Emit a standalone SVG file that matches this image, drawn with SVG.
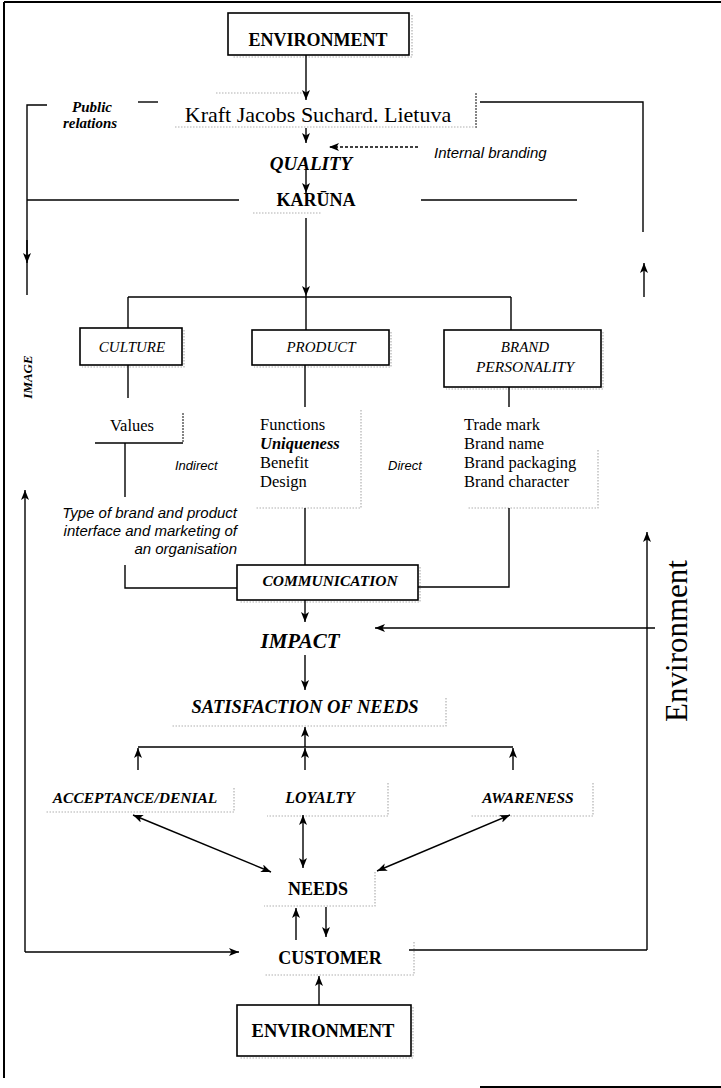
<svg xmlns="http://www.w3.org/2000/svg" width="721" height="1088" viewBox="0 0 721 1088">
<defs>
<marker id="ah" viewBox="0 0 10 8" refX="10" refY="4" markerWidth="10" markerHeight="8" markerUnits="userSpaceOnUse" orient="auto-start-reverse">
<path d="M0,0 L10,4 L0,8 L2.5,4 z" fill="#000"/>
</marker>
<style>
.t{font-family:"Liberation Serif","Times New Roman",serif;fill:#000}
.b{font-weight:bold}
.i{font-style:italic}
.s{font-family:"Liberation Sans",Arial,sans-serif;font-style:italic;fill:#000}
.box{fill:#fff;stroke:#000;stroke-width:1.6}
.ln{fill:none;stroke:#000;stroke-width:1.4}
.ar{fill:none;stroke:#000;stroke-width:1.4;marker-end:url(#ah)}
.ar2{fill:none;stroke:#000;stroke-width:1.4;marker-end:url(#ah);marker-start:url(#ah)}
.sh{fill:none;stroke:#b0b0b0;stroke-width:1.2;stroke-dasharray:1.5 1.5}
.shd{fill:none;stroke:#666;stroke-width:1.6;stroke-dasharray:2 1}
</style>
</defs>
<rect width="721" height="1088" fill="#fff"/>

<g id="frame" class="ln" style="stroke-width:2">
<path d="M4,2 L721,2"/>
<path d="M4,2 L4,1078"/>
<path d="M480,1087 L721,1087"/>
</g>

<g id="scan-shadows">
<path class="sh" d="M412,15 L412,57 L232,57"/>
<path class="sh" d="M216,93 L308,93"/>
<path class="shd" d="M476,93 L476,128"/>
<path class="sh" d="M175,127 L476,127"/>
<path class="sh" d="M253,213 L322,213"/>
<path class="sh" d="M184,330 L184,367 L82,367"/>
<path class="sh" d="M391,332 L391,367 L254,367"/>
<path class="sh" d="M603,332 L603,389 L446,389"/>
<path class="shd" d="M183,413 L183,443"/>
<path class="sh" d="M361,410 L361,508 L255,508"/>
<path class="sh" d="M598,450 L598,508 L467,508"/>
<path class="sh" d="M420,567 L420,602 L239,602"/>
<path class="sh" d="M446,698 L446,726 L172,726"/>
<path class="sh" d="M234,788 L234,812 L46,812"/>
<path class="sh" d="M388,783 L388,816 L267,816"/>
<path class="sh" d="M593,783 L593,816 L471,816"/>
<path class="sh" d="M375,872 L375,906 L264,906"/>
<path class="sh" d="M414,942 L414,975 L264,975"/>
<path class="sh" d="M413,1007 L413,1058 L240,1058"/>
</g>

<g id="connectors">
<path class="ar" d="M306,55 L306,100"/>
<path class="ar" d="M306,128 L306,143"/>
<path class="ar" d="M306,170 L306,193"/>
<path class="ar" d="M418,147 L329,147" style="stroke-dasharray:3 2"/>
<path class="ln" d="M47,105 L27,105 L27,295"/>
<path class="ar" d="M27,240 L27,263"/>
<path class="ln" d="M138,102 L158,102"/>
<path class="ln" d="M480,102 L643,102 L643,232"/>
<path class="ar" d="M644,297 L644,263"/>
<path class="ln" d="M27,200 L239,200"/>
<path class="ln" d="M421,200 L577,200"/>
<path class="ar" d="M306,218 L306,296"/>
<path class="ln" d="M306,296 L306,330"/>
<path class="ln" d="M128,297 L511,297"/>
<path class="ln" d="M128,297 L128,328"/>
<path class="ln" d="M511,297 L511,330"/>
<path class="ln" d="M128,365 L128,398"/>
<path class="ln" d="M305,365 L305,407"/>
<path class="ln" d="M509,387 L509,407"/>
<path class="ln" d="M95,443 L183,443"/>
<path class="ln" d="M125,443 L125,497"/>
<path class="ln" d="M125,565 L125,588 L237,588"/>
<path class="ln" d="M305,508 L305,565"/>
<path class="ln" d="M509,508 L509,587 L418,587"/>
<path class="ar" d="M305,600 L305,622"/>
<path class="ar" d="M655,628 L375,628"/>
<path class="ar" d="M305,655 L305,690"/>
<path class="ar" d="M305,747 L305,727"/>
<path class="ln" d="M138,747 L513,747"/>
<path class="ar" d="M138,770 L138,748"/>
<path class="ar" d="M305,770 L305,748"/>
<path class="ar" d="M513,770 L513,748"/>
<path class="ar2" d="M133,815 L271,872"/>
<path class="ar2" d="M303,815 L303,868"/>
<path class="ar2" d="M510,815 L377,871"/>
<path class="ar" d="M296,940 L296,908"/>
<path class="ar" d="M326,907 L326,937"/>
<path class="ar" d="M25,952 L25,490"/>
<path class="ar" d="M25,952 L239,952"/>
<path class="ln" d="M409,950 L647,950"/>
<path class="ar" d="M647,950 L647,532"/>
<path class="ar" d="M319,1005 L319,976"/>
</g>

<g id="env-top">
<rect class="box" x="228" y="13" width="181" height="42"/>
<text class="t b" x="318" y="46" font-size="18" text-anchor="middle">ENVIRONMENT</text>
</g>
<g id="kraft">
<text class="t" x="318" y="122" font-size="22" text-anchor="middle">Kraft Jacobs Suchard. Lietuva</text>
</g>
<g id="public-relations">
<text class="t b i" x="92" y="112" font-size="15" text-anchor="middle">Public</text>
<text class="t b i" x="90" y="128" font-size="15" text-anchor="middle">relations</text>
</g>
<g id="internal-branding">
<text class="s" x="434" y="158" font-size="15">Internal branding</text>
</g>
<g id="quality">
<text class="t b i" x="311" y="170" font-size="19" text-anchor="middle">QUALITY</text>
</g>
<g id="karuna">
<text class="t b" x="316" y="206" font-size="18" text-anchor="middle">KARŪNA</text>
</g>
<g id="image-label">
<text class="t b i" transform="translate(32,377) rotate(-90)" font-size="13" text-anchor="middle">IMAGE</text>
</g>
<g id="culture">
<rect class="box" x="80" y="328" width="102" height="37"/>
<text class="t i" x="132" y="352" font-size="15" text-anchor="middle">CULTURE</text>
</g>
<g id="product">
<rect class="box" x="252" y="330" width="137" height="35"/>
<text class="t i" x="321" y="352" font-size="15" text-anchor="middle">PRODUCT</text>
</g>
<g id="brand-personality">
<rect class="box" x="444" y="330" width="157" height="57"/>
<text class="t i" x="525" y="352" font-size="15" text-anchor="middle">BRAND</text>
<text class="t i" x="525" y="372" font-size="15.5" text-anchor="middle">PERSONALITY</text>
</g>
<g id="values">
<text class="t" x="110" y="431" font-size="16.5">Values</text>
</g>
<g id="product-list">
<text class="t" x="260" y="430" font-size="16.5">Functions</text>
<text class="t b i" x="260" y="449" font-size="16.5">Uniqueness</text>
<text class="t" x="260" y="468" font-size="16.5">Benefit</text>
<text class="t" x="260" y="487" font-size="16.5">Design</text>
</g>
<g id="brand-list">
<text class="t" x="464" y="430" font-size="16.5">Trade mark</text>
<text class="t" x="464" y="449" font-size="16.5">Brand name</text>
<text class="t" x="464" y="468" font-size="16.5">Brand packaging</text>
<text class="t" x="464" y="487" font-size="16.5">Brand character</text>
</g>
<g id="indirect"><text class="s" x="175" y="470" font-size="13">Indirect</text></g>
<g id="direct"><text class="s" x="388" y="470" font-size="13">Direct</text></g>
<g id="type-of-brand">
<text class="s" x="237" y="518" font-size="15" text-anchor="end">Type of brand and product</text>
<text class="s" x="237" y="536" font-size="15" text-anchor="end">interface and marketing of</text>
<text class="s" x="237" y="554" font-size="15" text-anchor="end">an organisation</text>
</g>
<g id="communication">
<rect class="box" x="237" y="565" width="181" height="35"/>
<text class="t b i" x="330" y="586" font-size="15.5" text-anchor="middle">COMMUNICATION</text>
</g>
<g id="impact"><text class="t b i" x="300" y="648" font-size="21" text-anchor="middle">IMPACT</text></g>
<g id="satisfaction"><text class="t b i" x="305" y="713" font-size="18.5" text-anchor="middle">SATISFACTION OF NEEDS</text></g>
<g id="acceptance"><text class="t b i" x="135" y="803" font-size="15.5" text-anchor="middle">ACCEPTANCE/DENIAL</text></g>
<g id="loyalty"><text class="t b i" x="320" y="803" font-size="16" text-anchor="middle">LOYALTY</text></g>
<g id="awareness"><text class="t b i" x="528" y="803" font-size="15.5" text-anchor="middle">AWARENESS</text></g>
<g id="needs"><text class="t b" x="318" y="895" font-size="18" text-anchor="middle">NEEDS</text></g>
<g id="customer"><text class="t b" x="330" y="964" font-size="18" text-anchor="middle">CUSTOMER</text></g>
<g id="env-bottom">
<rect class="box" x="237" y="1005" width="174" height="51"/>
<text class="t b" x="323" y="1037" font-size="18.5" text-anchor="middle">ENVIRONMENT</text>
</g>
<g id="environment-side">
<text class="t" transform="translate(687,641) rotate(-90)" font-size="31" text-anchor="middle">Environment</text>
</g>
</svg>
